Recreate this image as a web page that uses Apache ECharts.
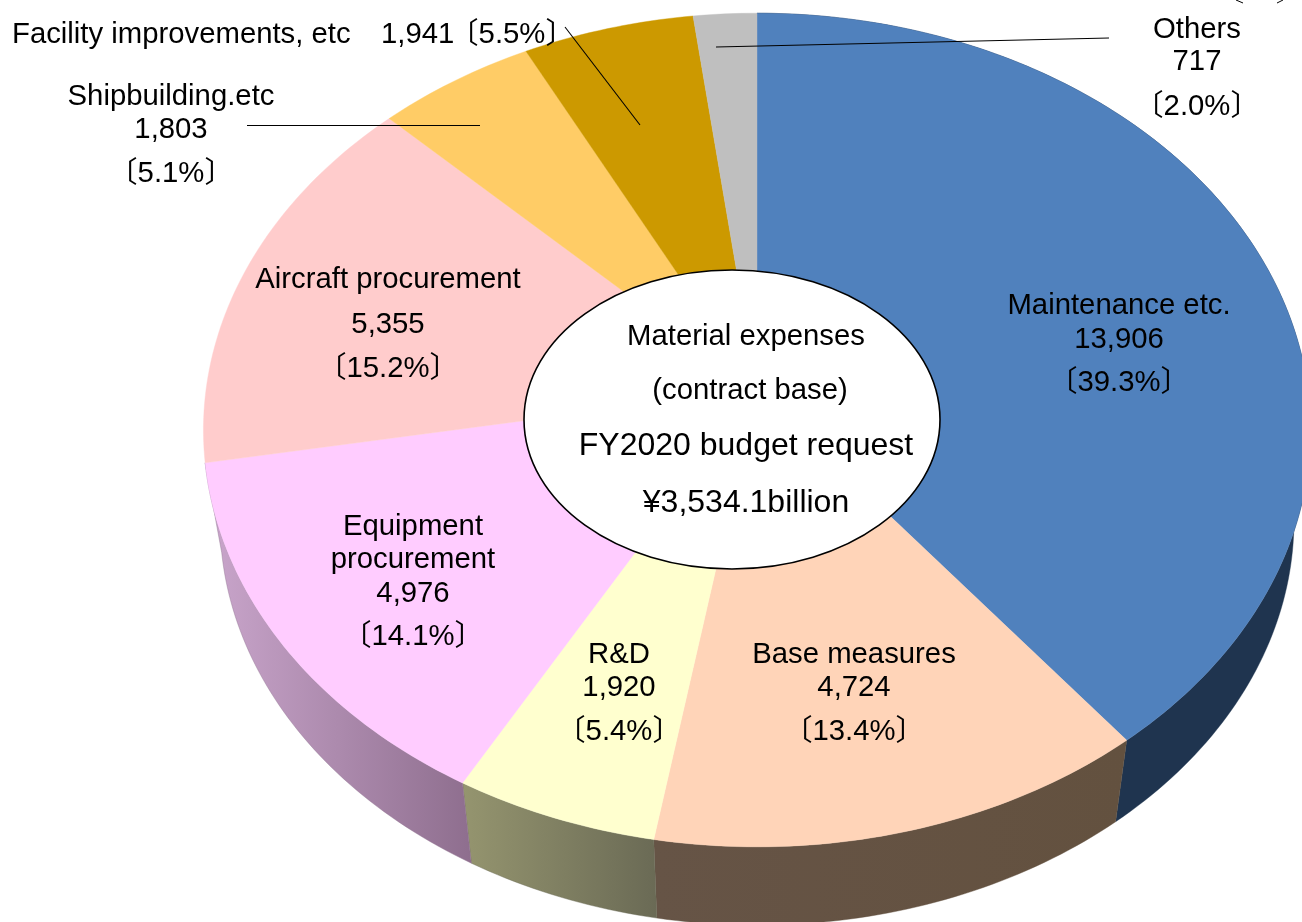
<!DOCTYPE html>
<html>
<head>
<meta charset="utf-8">
<style>html,body{margin:0;padding:0;background:#fff}#c{width:1302px;height:922px}</style>
<script src="https://cdn.jsdelivr.net/npm/echarts@6/dist/echarts.min.js"></script>
</head>
<body>
<div id="c"></div>
<script>
// clockwise from 12 o'clock
var names = ['Maintenance etc.', 'Base measures', 'R&D', 'Equipment procurement', 'Aircraft procurement', 'Shipbuilding.etc', 'Facility improvements, etc', 'Others'];
var values = [13906, 4724, 1920, 4976, 5355, 1803, 1941, 717];
var shares = ['39.3%', '13.4%', '5.4%', '14.1%', '15.2%', '5.1%', '5.5%', '2.0%'];
var centerLines = ['Material expenses', '(contract base)', 'FY2020 budget request', '¥3,534.1billion'];

var topColors = ['#5081bd', '#ffd4b8', '#ffffcf', '#ffccff', '#ffcccc', '#ffcc66', '#cc9900', '#bfbfbf'];
var wallColors = [['#1f344f', '#1f344f'], ['#665446', '#63513f'], ['#95956f', '#6a6a55'], ['#caa6cc', '#8e6e8e']];

// projection of the tilted disc (perspective)
var P = {cx: 757, cy: 390, a: 551, b: 413, k: 0.096, wallScale: 0.97, wallDrop: 92};
var total = values.reduce(function (s, v) { return s + v; }, 0);
function project(angle, lower) {
  var u = Math.sin(angle), v = Math.cos(angle), d = 1 + P.k * v;
  var x = P.a * u / d, y = -P.b * v / d;
  if (lower) return [P.cx + x * P.wallScale, P.cy + y * P.wallScale + P.wallDrop];
  return [P.cx + x, P.cy + y];
}
function range(i) {
  var s = 0;
  for (var j = 0; j < i; j++) s += values[j];
  return [s / total * 2 * Math.PI, (s + values[i]) / total * 2 * Math.PI];
}
function rim(a0, a1, lower) {
  var n = Math.max(2, Math.ceil((a1 - a0) / (Math.PI / 180))), pts = [];
  for (var i = 0; i <= n; i++) pts.push(project(a0 + (a1 - a0) * i / n, lower));
  return pts;
}
function renderWall(params, api) {
  var i = params.dataIndex, r = range(i);
  if (Math.cos(r[1]) > 0) return null; // slice lies entirely on the far side
  var pts = rim(r[0], r[1], false).concat(rim(r[0], r[1], true).reverse());
  var c = wallColors[i];
  return {type: 'polygon', shape: {points: pts}, style: {
    fill: {type: 'linear', x: 0, y: 0, x2: 1, y2: 0, colorStops: [{offset: 0, color: c[0]}, {offset: 1, color: c[1]}]},
    stroke: c[1], lineWidth: 0.4}};
}
function renderTop(params, api) {
  var i = params.dataIndex, r = range(i);
  var pts = [[P.cx, P.cy]].concat(rim(r[0], r[1], false));
  return {type: 'polygon', shape: {points: pts}, style: {fill: topColors[i], stroke: topColors[i], lineWidth: 0.4}};
}

function fmt(v) { return v.toLocaleString('en-US'); }
var FONT = '29.3px "Liberation Sans", Arial, "Noto Sans CJK JP", sans-serif';
var BIG = '32px "Liberation Sans", Arial, sans-serif';
function txt(s, x, y, align, font) {
  return {type: 'text', x: x, y: y + 2, z: 20, silent: true, style: {text: s, font: font || FONT, fill: '#000', textAlign: align || 'center', textVerticalAlign: 'middle'}};
}
function seg(x1, y1, x2, y2, w) {
  return {type: 'line', z: 15, silent: true, shape: {x1: x1, y1: y1, x2: x2, y2: y2}, style: {stroke: '#000', lineWidth: w || 1.1}};
}
function br(s) { return '〔' + s + '〕'; }

var graphics = [
  seg(247, 125.5, 480, 125.5), seg(565, 27, 640, 125), seg(716, 47, 1109, 38),
  seg(1236, 0, 1243, 3, 1), seg(1283, 0, 1277, 3, 1),
  {type: 'ellipse', z: 16, silent: true, shape: {cx: 732, cy: 419.5, rx: 208, ry: 149.5}, style: {fill: '#fff', stroke: '#000', lineWidth: 1.6}},
  txt(names[0], 1119, 304), txt(fmt(values[0]), 1119, 338), txt(br(shares[0]), 1119, 381),
  txt(names[1], 854, 653), txt(fmt(values[1]), 854, 686), txt(br(shares[1]), 854, 730),
  txt(names[2], 619, 653), txt(fmt(values[2]), 619, 686), txt(br(shares[2]), 619, 730),
  txt('Equipment', 413, 525), txt('procurement', 413, 558), txt(fmt(values[3]), 413, 592), txt(br(shares[3]), 413, 635),
  txt(names[4], 388, 278), txt(fmt(values[4]), 388, 323), txt(br(shares[4]), 388, 367),
  txt(names[5], 171, 95), txt(fmt(values[5]), 171, 128), txt(br(shares[5]), 171, 172),
  txt(names[6], 12, 33, 'left'), txt(fmt(values[6]), 381, 33, 'left'), txt(br(shares[6]), 512, 33),
  txt(names[7], 1197, 28), txt(fmt(values[7]), 1197, 60), txt(br(shares[7]), 1197, 105),
  txt(centerLines[0], 746, 335), txt(centerLines[1], 750, 389),
  txt(centerLines[2], 746, 444, 'center', BIG),
  txt(centerLines[3], 746, 501, 'center', BIG)
];

var chart = echarts.init(document.getElementById('c'), null, {renderer: 'canvas'});
chart.setOption({
  animation: false,
  backgroundColor: '#fff',
  graphic: {elements: graphics},
  series: [
    {type: 'custom', coordinateSystem: 'none', silent: true, z: 2, renderItem: renderWall, data: values.map(function (v) { return [v]; })},
    {type: 'custom', coordinateSystem: 'none', silent: true, z: 3, renderItem: renderTop, data: values.map(function (v) { return [v]; })}
  ]
});
</script>
</body>
</html>
